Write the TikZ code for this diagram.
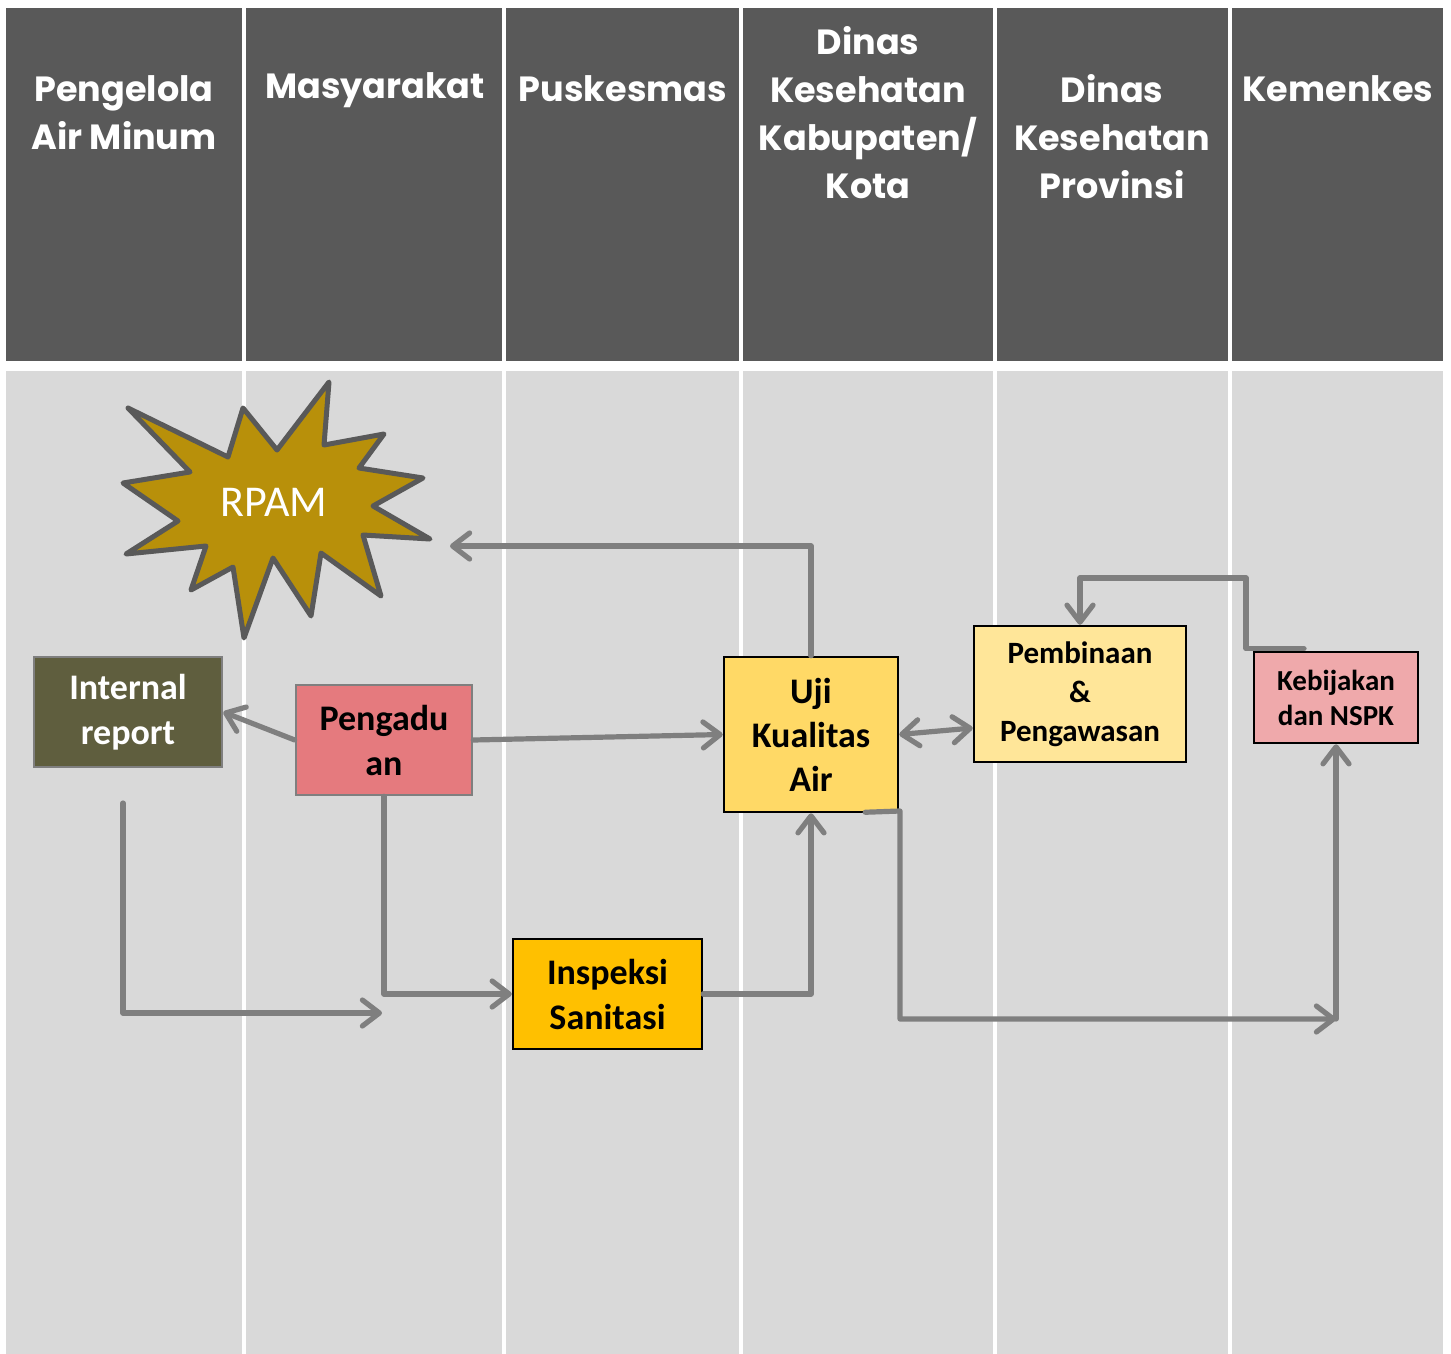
\documentclass[tikz,border=0pt]{standalone}
\usepackage{fontspec}
\setmainfont{Carlito}
\newfontfamily\hdrfont{Poppins}
\usetikzlibrary{arrows.meta,calc}
\definecolor{hdrc}{HTML}{595959}
\definecolor{bodyc}{HTML}{D9D9D9}
\definecolor{irc}{HTML}{5F5E3E}
\definecolor{pengc}{HTML}{E57A7E}
\definecolor{ujic}{HTML}{FFD966}
\definecolor{pembc}{HTML}{FFE699}
\definecolor{kebc}{HTML}{EFA9AB}
\definecolor{inspc}{HTML}{FFC000}
\definecolor{rpamc}{HTML}{B8900A}
\definecolor{linec}{HTML}{7F7F7F}
\tikzset{
  hdrtext/.style={anchor=north, inner sep=0pt, align=center, text=white,
    font=\hdrfont\bfseries\fontsize{35}{48}\selectfont},
  graybox/.style={draw=linec, line width=2.5pt, align=center, inner sep=0pt,
    font=\bfseries\fontsize{36}{45}\selectfont},
  blackbox/.style={draw=black, line width=2.5pt, align=center, inner sep=0pt},
  barbtip/.tip={Straight Barb[length=17pt,width=26pt,line cap=round,line join=round]},
  arr/.style={draw=linec, line width=5.2pt, line cap=round, line join=round, -barbtip},
  arrboth/.style={draw=linec, line width=5.2pt, line cap=round, barbtip-barbtip}
}
\begin{document}
\begin{tikzpicture}[x=1pt,y=-1pt]
\useasboundingbox (0,0) rectangle (1451,1354);
\fill[white] (0,0) rectangle (1451,1354);
% swimlanes
\foreach \a/\b in {6/242,246/502,506/739,743/993,997/1228,1232/1443}{
  \fill[hdrc] (\a,8) rectangle (\b,361);
  \fill[bodyc] (\a,371) rectangle (\b,1354);
}
% header texts
\node[hdrtext] (h1) at (124,75) {Pengelola\\Air Minum};
\node[hdrtext] (h2) at (375,72) {Masyarakat};
\node[hdrtext] (h3) at (623,75) {Puskesmas};
\node[hdrtext] (h4) at (868,26) {Dinas\\Kesehatan\\Kabupaten/\\Kota};
\node[hdrtext] (h5) at (1112,74) {Dinas\\Kesehatan\\Provinsi};
\node[hdrtext] (h6) at (1338,75) {Kemenkes};
% RPAM star
\draw[fill=rpamc, draw=hdrc, line width=5pt, line join=round]
  (128,408) -- (228,457) -- (243,408) -- (277,450) -- (329,382) -- (324,445)
  -- (384,434) -- (359,468) -- (423,478) -- (373,506) -- (430,539) -- (363,535)
  -- (381,596) -- (321,553) -- (311,616) -- (273,558) -- (244,638) -- (233,567)
  -- (191,590) -- (206,546) -- (126,554) -- (178,521) -- (123,483) -- (190,472)
  -- cycle;
\node[text=white, font=\fontsize{44}{50}\selectfont, inner sep=0pt] (rpam) at (274,502) {RPAM};
% boxes
\node[graybox, fill=irc, text=white, minimum width=188pt, minimum height=110pt] (ir) at (128,712) {Internal\\report};
\node[graybox, fill=pengc, text=black, minimum width=176pt, minimum height=110pt] (peng) at (384,740) {Pengadu\\an};
\node[blackbox, fill=ujic, minimum width=174pt, minimum height=155pt,
  font=\bfseries\fontsize{36}{44}\selectfont] (uji) at (811,734.5) {Uji\\Kualitas\\Air};
\node[blackbox, fill=pembc, minimum width=212pt, minimum height=136pt,
  font=\bfseries\fontsize{31}{39}\selectfont] (pemb) at (1080,694) {Pembinaan\\\&\\Pengawasan};
\node[blackbox, fill=kebc, minimum width=164pt, minimum height=91pt,
  font=\bfseries\fontsize{29}{35}\selectfont] (keb) at (1336,697.5) {Kebijakan\\dan NSPK};
\node[blackbox, fill=inspc, minimum width=189pt, minimum height=110pt,
  font=\bfseries\fontsize{36}{45}\selectfont] (insp) at (607.5,994) {Inspeksi\\Sanitasi};
% free coordinates
\coordinate (rpamin) at (450,546);
\coordinate (irs) at (123,803);
\coordinate (irt) at (382,1013);
\coordinate (kbk) at (1246,578);
\coordinate (ujk) at (900,811);
\coordinate (corner) at (1336,1019);
% connectors
\draw[arr] (uji.north) |- (rpamin);
\draw[arr] (peng.west) -- (ir.east);
\draw[arr] (peng.east) -- (uji.west);
\draw[arr] (peng.south) |- (insp.west);
\draw[arr] (irs) |- (irt);
\draw[arr] (insp.east) -| (uji.south);
\draw[arrboth] (uji.east) -- ([yshift=-34pt]pemb.west);
\draw[arr] ([xshift=-32pt,yshift=2pt]keb.north) -| (kbk) -| (pemb.north);
\draw[arr] ([xshift=-34pt,yshift=1pt]uji.south east) -- (ujk) |- (corner);
\draw[arr] (corner) -- (keb.south);
\end{tikzpicture}
\end{document}
